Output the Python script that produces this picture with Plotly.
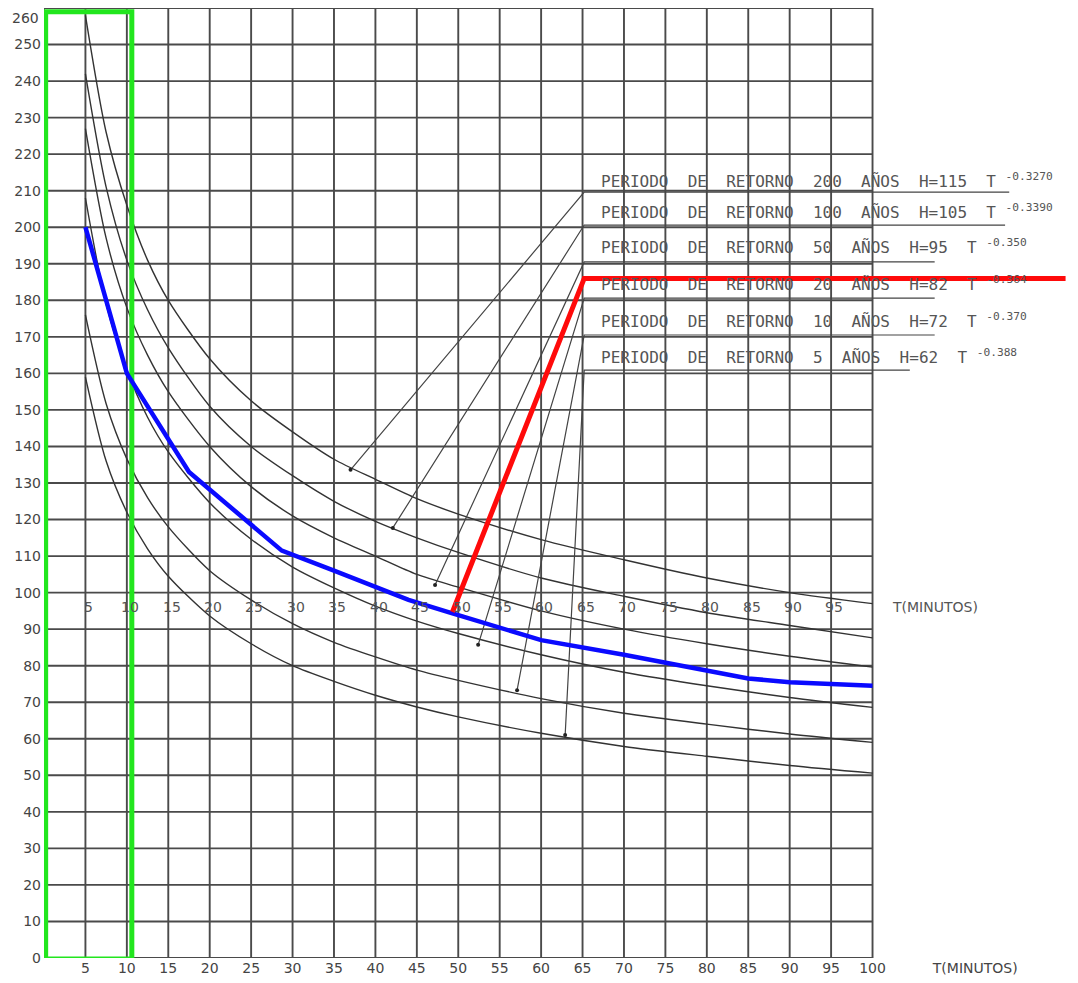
import plotly.graph_objects as go

# ---------------- data ----------------
durations = [5, 7.5, 10, 12.5, 15, 20, 25, 30, 35, 40, 45, 50, 60, 70, 80, 90, 100]
h_200 = [258, 226, 206, 191, 180, 164, 152.5, 144, 136.5, 131, 125.7, 121.5, 114.5, 109, 104, 100, 97]
h_100 = [242, 211, 191, 177.4, 167, 151, 140, 132, 125, 119.5, 115, 111, 104, 99, 94.5, 91, 87.6]
h_50 = [227, 197, 178, 165, 155, 140, 129, 121, 115, 110, 105, 101.5, 95, 90, 86, 82.6, 79.6]
h_20 = [208, 179, 161, 148, 138.5, 124.6, 114.6, 107, 101.3, 96.3, 92.2, 88.8, 83, 78.2, 74.5, 71.3, 68.6]
h_10 = [176, 151.7, 136.6, 126, 118, 106, 98, 91.5, 86.4, 82.4, 78.8, 76, 71, 67, 64, 61.3, 59]
h_5 = [159, 136, 122, 112, 104.5, 93.6, 86, 80, 75.7, 71.9, 68.7, 66, 61.5, 57.9, 55.2, 52.7, 50.6]

blue_x = [5, 10, 17.5, 28.7, 35, 44, 49, 60, 70, 79, 85, 90, 100]
blue_y = [200, 160, 133, 111.5, 106, 98, 94.5, 87, 83, 79, 76.5, 75.5, 74.5]

red_x = [49.3, 65.2, 123.3]
red_y = [94.7, 186, 186]

green_x = [0.2, 10.6, 10.6, 0.2, 0.2]
green_y = [-0.3, -0.3, 259.0, 259.0, -0.3]

periods = ["200", "100", "50", "20", "10", "5"]
coef_h = ["115", "105", "95", "82", "72", "62"]
expos = ["-0.3270", "-0.3390", "-0.350", "-0.364", "-0.370", "-0.388"]
label_y = [212.9, 204.2, 194.6, 184.5, 174.6, 164.5]
underline_y = [209.6, 200.6, 190.5, 180.6, 170.5, 160.9]
underline_end = [116.5, 116.0, 107.5, 107.5, 107.5, 104.5]
leader_start_x = 65.2
leader_end_x = [37.0, 42.1, 47.2, 52.4, 57.1, 62.9]
leader_end_y = [133.6, 117.7, 102.1, 85.7, 73.3, 61.0]

grid_x = list(range(0, 101, 5))
grid_y = list(range(0, 261, 10))
x_ticks = list(range(5, 101, 5))
mid_labels = list(range(5, 96, 5))
y_ticks = list(range(0, 251, 10))
y_top_tick = 260

# ---------------- figure ----------------
fig = go.Figure()

# grid
gx, gy = [], []
for v in grid_x:
    gx += [v, v, None]
    gy += [0, 260, None]
for v in grid_y:
    gx += [0, 100, None]
    gy += [v, v, None]
fig.add_trace(go.Scatter(x=gx, y=gy, mode="lines", line=dict(color="#4a4a4a", width=1.9),
                         hoverinfo="skip", showlegend=False, cliponaxis=False))

# IDF curves
for ys in [h_200, h_100, h_50, h_20, h_10, h_5]:
    fig.add_trace(go.Scatter(x=durations, y=ys, mode="lines",
                             line=dict(color="#333333", width=1.4, shape="spline", smoothing=0.8),
                             hoverinfo="skip", showlegend=False))

# leader lines + underlines
for i in range(len(periods)):
    fig.add_trace(go.Scatter(x=[leader_end_x[i], leader_start_x, underline_end[i]],
                             y=[leader_end_y[i], underline_y[i], underline_y[i]],
                             mode="lines", line=dict(color="#444444", width=1.2),
                             hoverinfo="skip", showlegend=False))
    fig.add_trace(go.Scatter(x=[leader_end_x[i]], y=[leader_end_y[i]], mode="markers",
                             marker=dict(color="#222222", size=4),
                             hoverinfo="skip", showlegend=False))

# green box
fig.add_trace(go.Scatter(x=green_x, y=green_y, mode="lines", cliponaxis=False,
                         line=dict(color="#22e61e", width=5), hoverinfo="skip", showlegend=False))
# blue line
fig.add_trace(go.Scatter(x=blue_x, y=blue_y, mode="lines",
                         line=dict(color="#0a0aff", width=4.5), hoverinfo="skip", showlegend=False))
# red line
fig.add_trace(go.Scatter(x=red_x, y=red_y, mode="lines",
                         line=dict(color="#ff0a0a", width=5), hoverinfo="skip", showlegend=False))

annotations = []
label_font = dict(family="DejaVu Sans Mono", size=16, color="#555555")
for i in range(len(periods)):
    txt = ("PERIODO\u00a0 DE\u00a0 RETORNO\u00a0 " + periods[i] + "\u00a0 AÑOS\u00a0 H=" + coef_h[i]
           + "\u00a0 T <sup>" + expos[i] + "</sup>")
    annotations.append(dict(x=67.0, y=label_y[i], xref="x", yref="y", text=txt, showarrow=False,
                            xanchor="left", yanchor="middle", font=label_font))

mid_font = dict(family="DejaVu Sans", size=14, color="#555555")
for v in mid_labels:
    annotations.append(dict(x=v + 0.4, y=96, xref="x", yref="y", text=str(v), showarrow=False,
                            xanchor="center", yanchor="middle", font=mid_font))
annotations.append(dict(x=107.6, y=96, xref="x", yref="y", text="T(MINUTOS)", showarrow=False,
                        xanchor="center", yanchor="middle", font=mid_font))

tick_font = dict(family="DejaVu Sans", size=14, color="#444444")
annotations.append(dict(x=0, y=y_top_tick, xref="paper", yref="y", text=str(y_top_tick),
                        showarrow=False, xanchor="right", yanchor="top", xshift=-3, yshift=0,
                        font=tick_font))

fig.update_layout(
    width=1070, height=975,
    margin=dict(l=36, r=0, t=0, b=25),
    paper_bgcolor="white", plot_bgcolor="white",
    annotations=annotations,
    xaxis=dict(range=[0, 124.8], showgrid=False, zeroline=False, showline=False,
               tickmode="array", tickvals=x_ticks + [112.4],
               ticktext=[str(v) for v in x_ticks] + ["T(MINUTOS)"],
               ticks="", tickfont=tick_font),
    yaxis=dict(range=[0, 260], showgrid=False, zeroline=False, showline=False,
               tickmode="array", tickvals=y_ticks, ticktext=[str(v) for v in y_ticks],
               ticks="", ticklabelstandoff=2, tickfont=tick_font),
)

fig.write_html("out.html")
